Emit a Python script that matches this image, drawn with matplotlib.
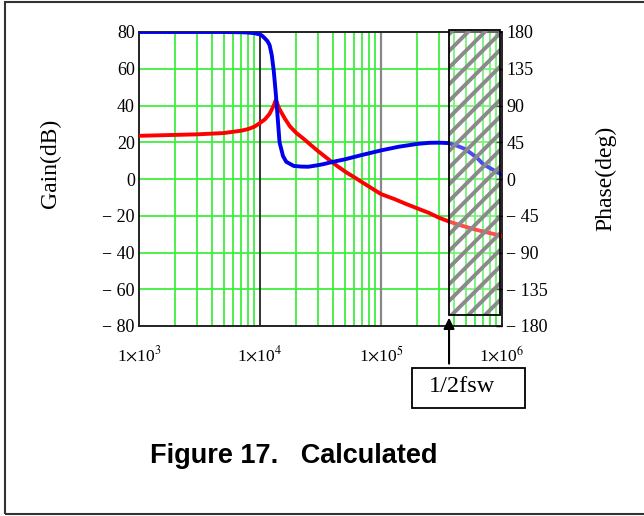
import numpy as np
import matplotlib.pyplot as plt
from matplotlib.patches import Rectangle
from matplotlib.ticker import FixedLocator, FuncFormatter, NullLocator

plt.rcParams['font.family'] = ['Liberation Serif', 'DejaVu Serif']
plt.rcParams['mathtext.fontset'] = 'stix'
plt.rcParams['hatch.linewidth'] = 2.8

# ── data ─────────────────────────────────────────────────────────────────────
freq_gain = [1e3, 2e3, 3e3, 5e3, 6e3, 7e3, 8e3, 9e3, 1e4, 1.1e4, 1.2e4, 1.3e4, 1.35e4,
             1.45e4, 1.6e4, 1.77e4, 2e4, 2.3e4, 2.6e4, 3e4, 3.8e4, 4.4e4, 5.2e4, 6e4,
             7e4, 8.5e4, 1e5, 1.3e5, 1.6e5, 2e5, 2.5e5, 3e5, 3.6e5, 4.2e5, 5e5, 6e5,
             8e5, 1e6]
gain_db = [23.5, 24, 24.3, 25, 25.7, 26.3, 27.2, 28.5, 30.5, 32.5, 35.5, 40, 43,
           38, 33, 28.6, 25, 21.8, 18.8, 15.3, 10, 6.8, 3.5, 1,
           -1.8, -5.3, -8.2, -11, -13.5, -16, -18.5, -21, -23, -24.5, -26, -27.5,
           -29.5, -31]

freq_phase = [1e3, 3e3, 5e3, 7e3, 8e3, 9e3, 1e4, 1.05e4, 1.1e4, 1.15e4, 1.2e4, 1.25e4,
              1.3e4, 1.35e4, 1.4e4, 1.45e4, 1.55e4, 1.65e4, 1.9e4, 2.2e4, 2.5e4, 2.9e4,
              3.3e4, 4e4, 5e4, 7e4, 1e5, 1.4e5, 2e5, 2.5e5, 3e5, 3.6e5, 4.2e5, 4.9e5,
              5.6e5, 6.3e5, 7e5, 8.5e5, 1e6]
phase_deg = [180, 180, 180, 179.7, 179.3, 178.5, 177, 175, 172, 169, 164, 152,
             132, 105, 75, 45, 28, 21, 16, 15.2, 15, 16.5,
             18, 21, 24, 29.5, 35, 39.5, 43, 44.3, 44.5, 44, 41, 37,
             31, 25, 18, 11, 5]

f_half_sw = 3.65e5      # half switching frequency marker
box_bottom_db = -74

gain_ticks = list(range(-80, 81, 20))
phase_ticks = list(range(-180, 181, 45))
decades = [1e3, 1e4, 1e5, 1e6]

grid_green = '#3def3d'

# ── figure ───────────────────────────────────────────────────────────────────
fig = plt.figure(figsize=(6.44, 5.16), dpi=100)
ax = fig.add_axes([139 / 644, 1 - 326 / 516, 363 / 644, 294 / 516])
ax.set_xscale('log')
ax.set_xlim(1e3, 1e6)
ax.set_ylim(-80, 80)

# grid: minor verticals + horizontal every 20 dB
minor_f = [m * d for d in decades[:-1] for m in range(2, 10)]
for f in minor_f:
    ax.axvline(f, color=grid_green, lw=1.3, zorder=1)
for g in gain_ticks[1:-1]:
    ax.axhline(g, color=grid_green, lw=1.3, zorder=1)
ax.axvline(1e4, color='#333333', lw=1.4, zorder=1.5)
ax.axvline(1e5, color='#888888', lw=1.6, zorder=1.5)

ax.plot(freq_gain, gain_db, color='#ff0000', lw=2.8, zorder=3)

axp = ax.twinx()
axp.set_ylim(-180, 180)
axp.plot(freq_phase, phase_deg, color='#0000ee', lw=2.8, zorder=3)

# hatched 1/2 fsw region: white veil + hatch + outline, drawn above the curves
x_right = 9.65e5
box_h = 81 - box_bottom_db
veil = Rectangle((f_half_sw, box_bottom_db), x_right - f_half_sw, box_h,
                 facecolor='white', alpha=0.3, edgecolor='none', zorder=5,
                 transform=ax.transData, clip_on=False)
hatch = Rectangle((f_half_sw, box_bottom_db), x_right - f_half_sw, box_h,
                  facecolor='none', edgecolor='#8a8a8a', hatch='//', lw=0, zorder=6,
                  transform=ax.transData, clip_on=False)
outline = Rectangle((f_half_sw, box_bottom_db), x_right - f_half_sw, box_h,
                    facecolor='none', edgecolor='black', lw=1.3, zorder=7,
                    transform=ax.transData, clip_on=False)
for p in (veil, hatch, outline):
    fig.add_artist(p)

# ticks / labels
ax.xaxis.set_major_locator(FixedLocator(decades))
ax.xaxis.set_minor_locator(NullLocator())
ax.xaxis.set_major_formatter(FuncFormatter(
    lambda v, pos: r'1$\times$10$^{%d}$' % round(np.log10(v))))
ax.yaxis.set_major_locator(FixedLocator(gain_ticks))
ax.yaxis.set_major_formatter(FuncFormatter(
    lambda v, pos: ('\u2212 %d' % -v) if v < 0 else '%d' % v))
axp.yaxis.set_major_locator(FixedLocator(phase_ticks))
axp.yaxis.set_major_formatter(FuncFormatter(
    lambda v, pos: ('\u2212 %d' % -v) if v < 0 else '%d' % v))
ax.tick_params(axis='y', length=0, labelsize=13, pad=3)
ax.tick_params(axis='x', length=0, labelsize=12.5, pad=14)
axp.tick_params(axis='y', direction='in', length=4, width=1, labelsize=13, pad=3)

for s in ax.spines.values():
    s.set_color('#222222')
    s.set_linewidth(1.4)
for s in axp.spines.values():
    s.set_visible(False)

fig.text(50 / 644, 1 - 163 / 516, 'Gain(dB)', rotation=90, ha='center', va='center', fontsize=17)
fig.text(606 / 644, 1 - 178 / 516, 'Phase(deg)', rotation=90, ha='center', va='center', fontsize=17)

# 1/2fsw annotation
ax.annotate('', xy=(f_half_sw, box_bottom_db), xytext=(f_half_sw, -102),
            arrowprops=dict(arrowstyle='-|>', color='black', lw=1.5, mutation_scale=16),
            annotation_clip=False)
fig.add_artist(Rectangle((412 / 644, 1 - 408 / 516), 113 / 644, 40 / 516,
                         transform=fig.transFigure, facecolor='none', edgecolor='black', lw=1.3))
fig.text(462 / 644, 1 - 386 / 516, '1/2fsw', ha='center', va='center', fontsize=17.5)

fig.text(294 / 644, 1 - 456 / 516, 'Figure 17.   Calculated', ha='center', va='center',
         fontsize=19.5, fontweight='bold', family=['Liberation Sans', 'DejaVu Sans'])

# page frame
fig.add_artist(Rectangle((5 / 644, 2 / 516), 700 / 644, 512 / 516, transform=fig.transFigure,
                         facecolor='none', edgecolor='#333333', lw=1.5))

fig.savefig('out.png', dpi=100)
